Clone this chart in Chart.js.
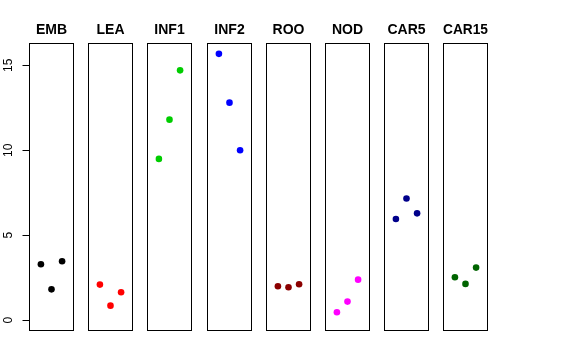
<!DOCTYPE html>
<html lang="en">
<head>
    <meta charset="UTF-8">
    <title>Panels</title>
    <script src="https://cdn.jsdelivr.net/npm/chart.js"></script>
    <style>
        body { margin: 0; background: #fff; }
        #wrap { position: relative; width: 576px; height: 360px; overflow: hidden; }
        #wrap canvas { position: absolute; top: 0; }
    </style>
</head>
<body>
    <div id="wrap"></div>

    <script>
        // data
        const groups = ["EMB", "LEA", "INF1", "INF2", "ROO", "NOD", "CAR5", "CAR15"];
        const replicate = [1, 2, 3];
        const EMB = [3.30, 1.82, 3.47];
        const LEA = [2.10, 0.86, 1.65];
        const INF1 = [9.49, 11.80, 14.70];
        const INF2 = [15.67, 12.80, 10.00];
        const ROO = [2.00, 1.94, 2.12];
        const NOD = [0.47, 1.10, 2.39];
        const CAR5 = [5.96, 7.16, 6.29];
        const CAR15 = [2.53, 2.14, 3.10];
        const yTicks = [0, 5, 10, 15];

        const series = [EMB, LEA, INF1, INF2, ROO, NOD, CAR5, CAR15];
        const colors = ["#000000", "#ff0000", "#00cd00", "#0000ff", "#8b0000", "#ff00ff", "#00008b", "#006400"];

        const boxLeft = [29, 88, 147, 207, 266, 325, 384, 443];
        const boxW = 45;
        const side = 15;

        const boxPlugin = {
            id: "box",
            afterDatasetsDraw(chart) {
                const a = chart.chartArea;
                const c = chart.ctx;
                c.save();
                c.strokeStyle = "#000";
                c.lineWidth = 1;
                const l = Math.round(a.left) + 0.5, t = Math.round(a.top) + 0.5;
                const r = Math.round(a.right) - 0.5, b = Math.round(a.bottom) - 0.5;
                c.strokeRect(l, t, r - l, b - t);
                c.restore();
            }
        };

        const yAxisPlugin = {
            id: "yaxis",
            afterDraw(chart) {
                const y = chart.scales.y;
                const c = chart.ctx;
                const x0 = Math.round(chart.chartArea.left) + 0.5;
                c.save();
                c.strokeStyle = "#000";
                c.fillStyle = "#000";
                c.lineWidth = 1;
                c.beginPath();
                c.moveTo(x0, y.getPixelForValue(yTicks[0]));
                c.lineTo(x0, y.getPixelForValue(yTicks[yTicks.length - 1]));
                yTicks.forEach(v => {
                    const py = Math.round(y.getPixelForValue(v)) + 0.5;
                    c.moveTo(x0 - 7, py);
                    c.lineTo(x0, py);
                });
                c.stroke();
                c.font = "12px 'Liberation Sans', Arial, sans-serif";
                c.textAlign = "center";
                c.textBaseline = "middle";
                yTicks.forEach(v => {
                    c.save();
                    c.translate(9, y.getPixelForValue(v));
                    c.rotate(-Math.PI / 2);
                    c.fillText(String(v), 0, 0);
                    c.restore();
                });
                c.restore();
            }
        };

        const wrap = document.getElementById("wrap");

        groups.forEach((name, i) => {
            const canvas = document.createElement("canvas");
            const first = i === 0;
            const left = first ? 0 : boxLeft[i] - side;
            const padLeft = first ? boxLeft[i] : side;
            const w = padLeft + boxW + side;
            canvas.style.left = left + "px";
            canvas.style.width = w + "px";
            canvas.style.height = "360px";
            canvas.width = w;
            canvas.height = 360;
            wrap.appendChild(canvas);

            new Chart(canvas.getContext("2d"), {
                type: "scatter",
                data: {
                    datasets: [{
                        data: replicate.map((x, k) => ({ x: x, y: series[i][k] })),
                        backgroundColor: colors[i],
                        borderColor: colors[i],
                        pointRadius: 3.3,
                        pointBorderWidth: 0
                    }]
                },
                options: {
                    responsive: false,
                    animation: false,
                    devicePixelRatio: 1,
                    layout: { padding: { left: padLeft, right: side, top: 0, bottom: 29 } },
                    plugins: {
                        legend: { display: false },
                        tooltip: { enabled: false },
                        title: {
                            display: true,
                            text: name,
                            color: "#000",
                            font: { family: "'Liberation Sans', Arial, sans-serif", size: 14, weight: "bold", lineHeight: 1.2 },
                            padding: { top: 22, bottom: 4.5 }
                        }
                    },
                    scales: {
                        x: { type: "linear", display: false, min: -0.125, max: 4.125 },
                        y: { type: "linear", display: false, min: -0.63, max: 16.29 }
                    }
                },
                plugins: first ? [boxPlugin, yAxisPlugin] : [boxPlugin]
            });
        });
    </script>
</body>
</html>
